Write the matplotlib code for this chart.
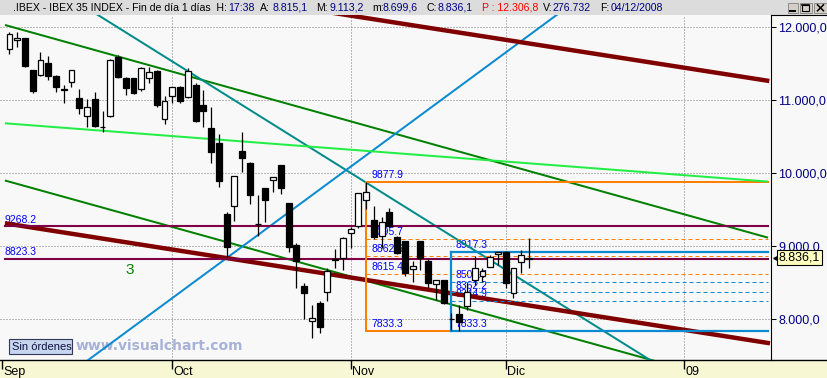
import matplotlib
matplotlib.use("Agg")
import matplotlib.pyplot as plt
from matplotlib.patches import Rectangle
from matplotlib.transforms import blended_transform_factory
import numpy as np

plt.rcParams['font.family'] = ['Liberation Sans', 'DejaVu Sans']

# ---------------- data ----------------
# bar index: weekday count from 1 Sep 2008 (Sep 1 = 0)
bar_index = list(range(1, 69))
opens = [11698, 11822, 11849, 11414, 11342, 11506, 11332, 11144, 11246, 11030,
         10779, 11016, 10628, 10779, 11597, 11305, 11305, 11150, 11300, 11396,
         10738, 11058, 11177, 11040, 11209, 10934, 10615, 10413, 9439, 9553,
         10303, 10143, 9298, 9792, 9901, 10111, 9586, 9014, 8451, 7971,
         8214, 8373, 8808, 8840, 9183, 9274, 9631, 9357, 9137, 9471,
         9128, 9069, 8685, 9069, 8798, 8479, 8534, 7995, 8067, 8177,
         8534, 8589, 8716, 8890, 8922, 8351, 8777, 8815.1]
highs = [11931, 11931, 11860, 11420, 11657, 11602, 11346, 11204, 11410, 11150,
         11016, 11108, 10852, 11560, 11620, 11314, 11310, 11460, 11460, 11414,
         11058, 11177, 11190, 11438, 11232, 11140, 10903, 10536, 9462, 9960,
         10568, 10150, 9700, 9800, 9942, 10115, 9590, 9037, 8488, 8191,
         8246, 8694, 8955, 9128, 9265, 9723, 9877.9, 9550, 9402, 9517,
         9135, 9075, 8798, 9075, 8818, 8534, 8540, 8077, 8191, 8488,
         8863, 8694, 8870, 8917.3, 8925, 8694, 8945, 9113.2]
lows = [11630, 11734, 11460, 11103, 11330, 11277, 11117, 10966, 11177, 10815,
        10636, 10632, 10568, 10765, 11310, 11075, 11089, 11122, 11232, 10910,
        10669, 10957, 10966, 11030, 10705, 10636, 10143, 9813, 8853, 9347,
        10019, 9576, 9141, 9333, 9745, 9713, 8922, 8420, 7995, 7734,
        7811, 8246, 8694, 8671, 8969, 9243, 9503, 9100, 8969, 9260,
        8890, 8589, 8502, 8671, 8420, 8259, 8200, 7848, 7833.3, 8122,
        8465, 8510, 8716, 8740, 8420, 8291, 8634, 8699.6]
closes = [11904, 11849, 11473, 11130, 11547, 11336, 11177, 11150, 11410, 10889,
          10903, 10650, 10632, 11547, 11322, 11171, 11103, 11438, 11383, 10938,
          10985, 11177, 10993, 11405, 10719, 10856, 10294, 9896, 8990, 9960,
          10211, 9704, 9305, 9631, 9942, 9792, 8990, 8798, 8351, 8008,
          7893, 8661, 8815, 9106, 9229, 9723, 9745, 9128, 9333, 9274,
          8908, 8634, 8730, 8831, 8488, 8534, 8214, 8000, 7962, 8373,
          8694, 8657, 8845, 8914, 8497, 8694, 8877, 8836.1]

month_index = [0, 22, 45, 65, 88]
month_labels = ['Sep', 'Oct', 'Nov', 'Dic', '09']
price_ticks = [8000, 9000, 10000, 11000, 12000]

# trend lines: ((index, price), (index, price))
green_upper = [(0.42, 12031.6), (98.83, 9113.9)]
green_lower = [(0.42, 9898.5), (84.25, 7422.4)]
lime_line = [(0.42, 10683.1), (98.83, 9883.4)]
teal_line = [(11.64, 12220.2), (84.38, 7384.8)]
blue_line = [(10.74, 7403.3), (72.0, 12203.0)]
maroon_upper = [(42.34, 12204.4), (98.99, 11263.4)]
maroon_lower = [(0.42, 9311.4), (99.08, 7665.3)]

horizontal_levels = [9268.2, 8823.3]
orange_fib = {'start': 47, 'end_low': 58, 'high': 9877.9, 'low': 7833.3,
              'levels': [9095.7, 8862.6, 8615.4]}
blue_fib = {'start': 58, 'high': 8917.3, 'low': 7833.3,
            'levels': [8505.7, 8362.2, 8244.9]}
line_end = 98.83
wave_label = ('3', 16.5, 8664)

extra_P = '12.306,8'
extra_V = '276.732'
date_str = '04/12/2008'
time_str = '17:38'


def es(v):
    s = f"{v:,.1f}"
    return s.replace(',', 'X').replace('.', ',').replace('X', '.')


# ---------------- figure ----------------
W, H = 828, 378
fig = plt.figure(figsize=(W / 100, H / 100), dpi=100)
fig.patch.set_facecolor('#F8F8F8')

PLOT_R, PLOT_T, PLOT_B = 771, 15, 360
XL = (-0.22, 99.21)
YL = (7436, 12168.7)

# overlay in pixel coordinates (behind main axes)
ov = fig.add_axes([0, 0, 1, 1], zorder=0)
ov.set_xlim(0, W)
ov.set_ylim(H, 0)
ov.axis('off')

ax = fig.add_axes([0, (H - PLOT_B) / H, PLOT_R / W, (PLOT_B - PLOT_T) / H], zorder=2)
ax.patch.set_alpha(0)
ax.set_xlim(*XL)
ax.set_ylim(*YL)

# grid
ax.set_xticks(month_index[1:])
ax.tick_params(axis='x', length=0, labelbottom=False)
ax.set_yticks(price_ticks)
ax.yaxis.tick_right()
ax.set_yticklabels([es(v) for v in price_ticks])
ax.tick_params(axis='y', direction='out', length=3.6, width=0.75, pad=1.5,
               labelsize=9, labelcolor='#000080', color='black')
ax.grid(True, color='#7A7A7A', lw=0.72, ls=(0, (1, 2)), zorder=0.5)
for s in ['left', 'top', 'bottom']:
    ax.spines[s].set_visible(False)
ax.spines['right'].set_color('black')
ax.spines['right'].set_linewidth(0.8)


def seg(pts, color, lw, z=3):
    (x0, y0), (x1, y1) = pts
    ax.plot([x0, x1], [y0, y1], color=color, lw=lw, zorder=z, solid_capstyle='butt')


seg(green_lower, '#008000', 1.44)
seg(green_upper, '#008000', 1.44)
seg(teal_line, '#008B8B', 1.44)
seg(blue_line, '#0A8AD0', 1.44)
seg(maroon_upper, '#800000', 3.2)
seg(maroon_lower, '#800000', 3.2)

lab_kw = dict(color='#0000FF', fontsize=7.5, va='baseline', ha='left',
              textcoords='offset points', zorder=2.5)

for lv in horizontal_levels:
    ax.plot([0.42, line_end], [lv, lv], color='#7F0045', lw=1.5, zorder=3)
    ax.annotate(f"{lv:.1f}", (0.42, lv), xytext=(0, 2.6), **lab_kw)

# orange fib box
of = orange_fib
oc = '#FF8000'
ax.plot([of['start'], line_end], [of['high'], of['high']], color=oc, lw=1.44, zorder=3)
ax.plot([of['start'], of['start']], [of['low'], of['high']], color=oc, lw=1.44, zorder=3)
ax.plot([of['start'], of['end_low']], [of['low'], of['low']], color=oc, lw=1.44, zorder=3)
ax.hlines(of['levels'], of['start'], line_end, color=oc, lw=0.72, ls=(0, (4, 3)), zorder=3)
for lv in [of['high']] + of['levels'] + [of['low']]:
    ax.annotate(f"{lv:.1f}", (of['start'], lv), xytext=(3.5, 2.6), **lab_kw)

# blue fib box
bf = blue_fib
bc = '#0A8AD0'
ax.plot([bf['start'], line_end], [bf['high'], bf['high']], color=bc, lw=1.6, zorder=3)
ax.plot([bf['start'], line_end], [bf['low'], bf['low']], color=bc, lw=1.6, zorder=3)
ax.plot([bf['start'], bf['start']], [bf['low'], bf['high']], color=bc, lw=1.6, zorder=3)
ax.hlines(bf['levels'], bf['start'], line_end, color=bc, lw=0.72, ls=(0, (4, 3)), zorder=3)
for lv in [bf['high']] + bf['levels'] + [bf['low']]:
    ax.annotate(f"{lv:.1f}", (bf['start'], lv), xytext=(3.2, 2.6), **lab_kw)

seg(lime_line, '#22EE44', 1.44, z=3.2)

ax.text(wave_label[1], wave_label[2], wave_label[0], color='#008000', fontsize=11,
        ha='center', va='center', zorder=2.5)

# candles
x = np.array(bar_index, dtype=float)
o = np.array(opens, dtype=float)
hi = np.array(highs, dtype=float)
lo = np.array(lows, dtype=float)
c = np.array(closes, dtype=float)
up = c >= o
bb = np.minimum(o, c)
bh = np.abs(c - o)
ax.vlines(x, lo, hi, color='black', lw=0.9, zorder=5)
ax.bar(x[up], bh[up], bottom=bb[up], width=0.76, facecolor='white',
       edgecolor='black', lw=0.9, zorder=6)
ax.bar(x[~up], bh[~up], bottom=bb[~up], width=0.76, facecolor='black',
       edgecolor='black', lw=0.9, zorder=6)

# last price tag
tr = blended_transform_factory(ax.transAxes, ax.transData)
ax.text(1 + 8 / PLOT_R, closes[-1], es(closes[-1]), transform=tr, ha='left', va='center',
        fontsize=9, color='black', clip_on=False, zorder=10,
        bbox=dict(boxstyle='square,pad=0.12', fc='#FFFFC0', ec='black', lw=0.8))
ax.plot([1 + 4 / PLOT_R], [closes[-1]], transform=tr, marker='<', ms=2.5,
        color='black', clip_on=False, zorder=10)

# date band
band = fig.add_axes([0, 0, 1, (H - PLOT_B) / H], zorder=1)
band.set_facecolor('#F7F7D4')
band.set_xlim(XL[0], XL[0] + (XL[1] - XL[0]) * W / PLOT_R)
band.set_ylim(0, 1)
band.set_xticks([])
band.set_yticks([])
for s in ['left', 'right', 'bottom']:
    band.spines[s].set_visible(False)
band.spines['top'].set_linewidth(1.0)
band.vlines(month_index, 0.5, 1.0, color='black', lw=1.0)
for mi, ml in zip(month_index, month_labels):
    band.text(mi + 0.2, 0.36, ml, fontsize=9, ha='left', va='center', color='black')

# right panel top border
ov.plot([PLOT_R, W], [PLOT_T, PLOT_T], color='black', lw=0.8)

# title bar
ov.add_patch(Rectangle((0, 0), W, PLOT_T - 0.5, fc='#DCDCDC', ec='none'))
pieces = [
    (13, '.IBEX - IBEX 35 INDEX - Fin de día 1 días  H:', 'black'),
    (228, time_str, '#000080'),
    (260, 'A:', 'black'), (273, es(opens[-1]), '#000080'),
    (316, 'M:', 'black'), (330, es(highs[-1]), '#000080'),
    (372, 'm:', 'black'), (383, es(lows[-1]), '#000080'),
    (427, 'C:', 'black'), (438, es(closes[-1]), '#000080'),
    (482, 'P : ' + extra_P, '#FF0000'),
    (543, 'V:', 'black'), (553, extra_V, '#000080'),
    (600, 'F:', 'black'), (611, date_str, '#000080'),
]
for px, t, col in pieces:
    ov.text(px, 7.6, t, fontsize=7.6, color=col, ha='left', va='center')

# window buttons
for bx, bw in [(787.7, 10.6), (800, 11.7), (814, 13)]:
    ov.add_patch(Rectangle((bx, 2.7), bw, 10, fc='#D4D0C8', ec='#808080', lw=0.6))
ov.plot([790.5, 795.5], [10.6, 10.6], color='black', lw=1.4)
ov.add_patch(Rectangle((802.5, 5), 6.5, 5.8, fc='none', ec='black', lw=0.8))
ov.plot([802.5, 809], [5.4, 5.4], color='black', lw=1.2)
ov.plot([817.5, 823.5], [4.8, 10.8], color='black', lw=1.1)
ov.plot([817.5, 823.5], [10.8, 4.8], color='black', lw=1.1)

# status box & watermark
ov.add_patch(Rectangle((9.3, 339.3), 62.4, 14.7, fc='#C7D6EE', ec='#303A58', lw=0.8))
ov.text(12, 347, 'Sin órdenes', fontsize=8, color='#101040', ha='left', va='center')
ov.text(76, 350, 'www.visualchart.com', fontsize=10, fontweight='bold',
        family='DejaVu Sans', color='#A8B2D8', ha='left', va='baseline')

fig.savefig('out.png', dpi=100, facecolor=fig.get_facecolor())
